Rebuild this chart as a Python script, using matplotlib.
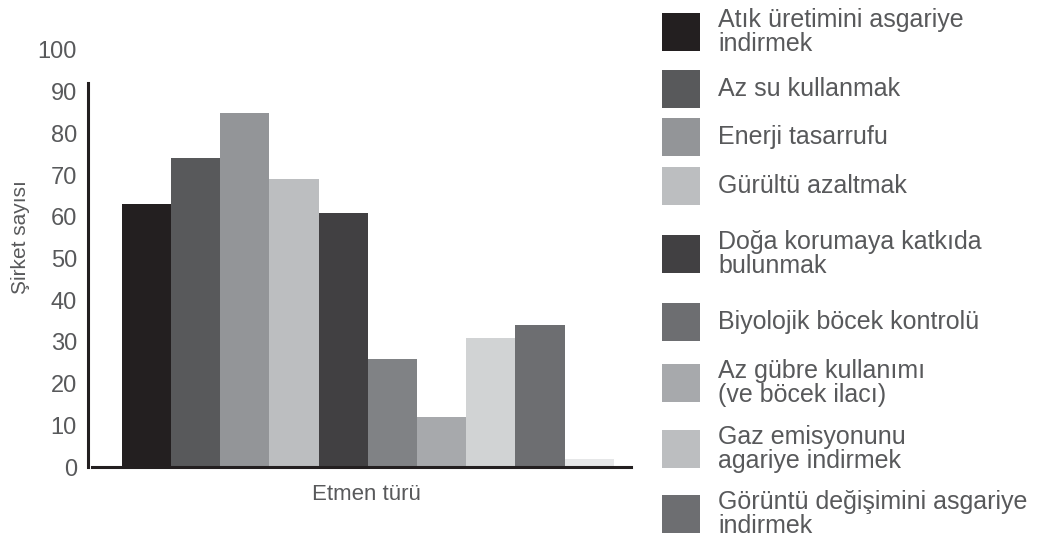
import matplotlib.pyplot as plt
from matplotlib.patches import Rectangle

plt.rcParams['font.family'] = ['Liberation Sans', 'DejaVu Sans']

# etmen turleri (legend) - last bar has no legend entry
labels = [
    "Atık üretimini asgariye\nindirmek",
    "Az su kullanmak",
    "Enerji tasarrufu",
    "Gürültü azaltmak",
    "Doğa korumaya katkıda\nbulunmak",
    "Biyolojik böcek kontrolü",
    "Az gübre kullanımı\n(ve böcek ilacı)",
    "Gaz emisyonunu\nagariye indirmek",
    "Görüntü değişimini asgariye\nindirmek",
]
values = [63, 74, 85, 69, 61, 26, 12, 31, 34, 2]
yticks = [0, 10, 20, 30, 40, 50, 60, 70, 80, 90, 100]

colors = ["#231f20", "#58595b", "#939598", "#bcbec0", "#414042",
          "#808285", "#a7a9ac", "#d1d3d4", "#6d6e71", "#e6e7e8"]
legend_colors = ["#231f20", "#58595b", "#939598", "#bcbec0", "#414042",
                 "#6d6e71", "#a7a9ac", "#bcbec0", "#6d6e71"]
# legend row centers (pixels from top)
legend_y = [32, 89, 137, 186, 254, 322, 383, 449, 514]

txt = "#58595b"
W, H = 1054, 536

fig = plt.figure(figsize=(10.54, 5.36), dpi=100)
ax = fig.add_axes([88 / W, 1 - 467 / H, 543 / W, 417 / H])

x = list(range(len(values)))
ax.bar(x, values, width=1.0, color=colors, linewidth=0)

ax.set_xlim(-1.19, 9.85)
ax.set_ylim(0, 100)
ax.set_yticks(yticks)
ax.set_xticks([])
ax.tick_params(axis='y', length=0, pad=8, labelsize=17, labelcolor=txt)

for s in ["top", "right"]:
    ax.spines[s].set_visible(False)
ax.spines["left"].set_linewidth(2.2)
ax.spines["left"].set_color("#231f20")
ax.spines["left"].set_bounds(0, 92)
ax.spines["bottom"].set_linewidth(2.2)
ax.spines["bottom"].set_color("#231f20")
ax.spines["bottom"].set_bounds(-1.11, 9.85)

fig.text(21 / W, 1 - 237 / H, "Şirket sayısı", rotation=90, ha="center",
         va="center", fontsize=15, color=txt)
fig.text(366 / W, 1 - 495 / H, "Etmen türü", ha="center", va="center",
         fontsize=16, color=txt)

for lab, c, yc in zip(labels, legend_colors, legend_y):
    fig.patches.append(Rectangle((662 / W, 1 - (yc + 19) / H), 38 / W, 38 / H,
                                 transform=fig.transFigure, color=c, lw=0))
    fig.text(718 / W, 1 - yc / H, lab, ha="left", va="center", fontsize=18,
             color=txt, linespacing=0.95)

fig.savefig("out.png", dpi=100)
